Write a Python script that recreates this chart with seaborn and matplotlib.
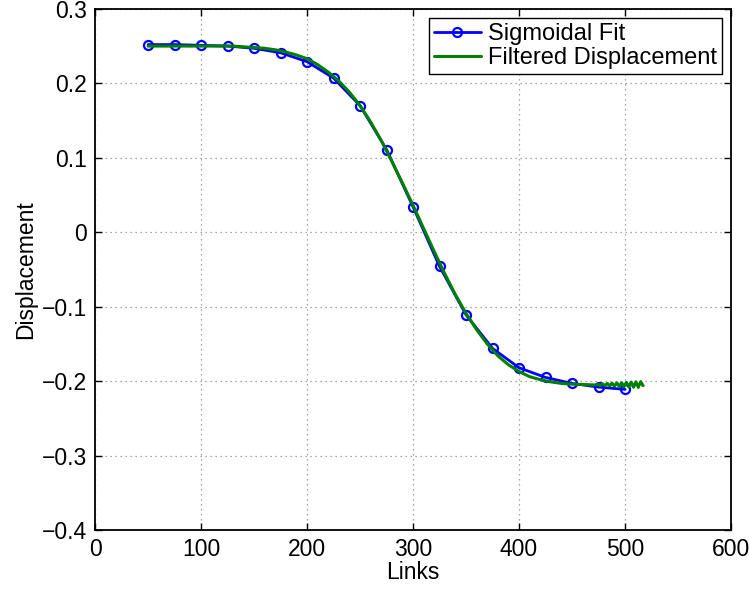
import matplotlib
matplotlib.use("Agg")
import matplotlib.pyplot as plt
import pandas as pd
import seaborn as sns

# Sigmoidal fit, sampled every 25 links
fit_links = [50, 75, 100, 125, 150, 175, 200, 225, 250, 275, 300,
             325, 350, 375, 400, 425, 450, 475, 500]
fit_disp = [0.252, 0.252, 0.251, 0.250, 0.247, 0.241, 0.229, 0.207, 0.170,
            0.111, 0.034, -0.046, -0.111, -0.156, -0.182, -0.195, -0.203,
            -0.208, -0.211]

# Filtered displacement (dense, small ripple at the end)
filt_links = [50, 60, 70, 80, 90, 100, 110, 120, 130, 140, 150, 160, 170,
              180, 190, 200, 210, 220, 230, 240, 250, 260, 270, 280, 290,
              300, 310, 320, 330, 340, 350, 360, 370, 380, 390, 400, 410,
              420, 430, 440, 450, 460, 470,
              472.0, 474.25, 476.5, 478.75, 481.0, 483.25, 485.5, 487.75,
              490.0, 492.25, 494.5, 496.75, 499.0, 501.25, 503.5, 505.75,
              508.0, 510.25, 512.5, 514.75, 517.0]
filt_disp = [0.250, 0.250, 0.250, 0.250, 0.250, 0.250, 0.250, 0.250, 0.250,
             0.249, 0.248, 0.247, 0.245, 0.242, 0.238, 0.233, 0.225, 0.215,
             0.203, 0.188, 0.170, 0.148, 0.123, 0.095, 0.066, 0.036, 0.005,
             -0.026, -0.056, -0.084, -0.109, -0.131, -0.150, -0.166, -0.178,
             -0.187, -0.194, -0.198, -0.201, -0.203, -0.204, -0.2045, -0.205,
             -0.2050, -0.2040, -0.2058, -0.2035, -0.2060, -0.2030, -0.2063,
             -0.2027, -0.2067, -0.2023, -0.2070, -0.2020, -0.2074, -0.2016,
             -0.2078, -0.2012, -0.2082, -0.2008, -0.2084, -0.2006, -0.2060]

sns.set_style("ticks")
plt.rcParams["font.family"] = ["Liberation Sans", "DejaVu Sans"]
plt.rcParams.update({"text.color": "black", "axes.labelcolor": "black",
                     "xtick.color": "black", "ytick.color": "black"})

fig = plt.figure(figsize=(7.49, 5.89), dpi=100)
ax = fig.add_axes([0.127, 0.100, 0.849, 0.885])

fit_df = pd.DataFrame({"Links": fit_links, "Displacement": fit_disp})
filt_df = pd.DataFrame({"Links": filt_links, "Displacement": filt_disp})

sns.lineplot(data=fit_df, x="Links", y="Displacement", ax=ax, color="blue",
             linewidth=2, marker="o", markersize=6.5, markerfacecolor="none",
             markeredgecolor="blue", markeredgewidth=1.6,
             label="Sigmoidal Fit", zorder=3)
sns.lineplot(data=filt_df, x="Links", y="Displacement", ax=ax,
             color=(0, 0.5, 0), linewidth=2.2, sort=False,
             label="Filtered Displacement", zorder=4)

ax.set_xlim(0, 600)
ax.set_ylim(-0.4, 0.3)
ax.set_xticks(range(0, 601, 100))
ax.set_yticks([-0.4, -0.3, -0.2, -0.1, 0, 0.1, 0.2, 0.3])
ax.set_yticklabels(["\u22120.4", "\u22120.3", "\u22120.2", "\u22120.1",
                    "0", "0.1", "0.2", "0.3"])

ax.grid(True, color="0.55", linestyle=(0, (1, 3)), linewidth=0.9)
ax.tick_params(direction="in", length=5, width=1, labelsize=16.5,
               top=True, right=True, pad=6)
for sp in ax.spines.values():
    sp.set_linewidth(1.3)
    sp.set_color("black")

ax.set_xlabel("Links", fontsize=16.5, labelpad=0)
ax.set_ylabel("Displacement", fontsize=16.5, labelpad=3)

leg = ax.legend(loc="upper right", fontsize=17, frameon=True, fancybox=False,
                framealpha=1, edgecolor="black", borderaxespad=0.4,
                handlelength=2.0, borderpad=0.2, labelspacing=0.1,
                handletextpad=0.3)
leg.get_frame().set_linewidth(1.0)

fig.savefig("out.png", dpi=100)
